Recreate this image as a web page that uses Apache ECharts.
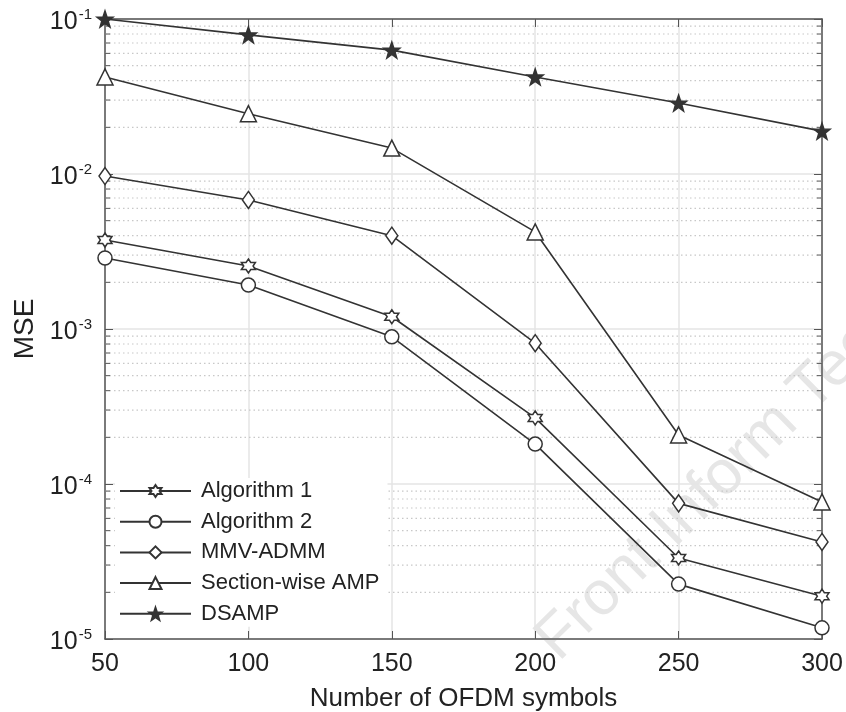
<!DOCTYPE html>
<html>
<head>
<meta charset="utf-8">
<script src="https://cdn.jsdelivr.net/npm/echarts@6/dist/echarts.min.js"></script>
<style>
  html, body { margin: 0; padding: 0; background: #fff; }
  #chart { width: 846px; height: 712px; }
</style>
</head>
<body>
<div id="chart"></div>
<script>
"use strict";
// data
var symbolsCount = [50, 100, 150, 200, 250, 300];
var alg1 = [3.75e-3, 2.55e-3, 1.2e-3, 2.67e-4, 3.33e-5, 1.89e-5];
var alg2 = [2.87e-3, 1.92e-3, 8.9e-4, 1.81e-4, 2.26e-5, 1.18e-5];
var mmvAdmm = [9.7e-3, 6.8e-3, 4.0e-3, 8.1e-4, 7.5e-5, 4.23e-5];
var sectionAmp = [4.23e-2, 2.45e-2, 1.47e-2, 4.23e-3, 2.07e-4, 7.66e-5];
var dsamp = [0.1, 7.9e-2, 6.3e-2, 4.23e-2, 2.87e-2, 1.89e-2];
var seriesNames = ['Algorithm 1', 'Algorithm 2', 'MMV-ADMM', 'Section-wise AMP', 'DSAMP'];

// minor grid lines of the log axis (2..9 in each decade)
var minorFactors = [2, 3, 4, 5, 6, 7, 8, 9];
var decades = [1e-5, 1e-4, 1e-3, 1e-2];
var minorTicks = [];
decades.forEach(function(d) {
	minorFactors.forEach(function(f) { minorTicks.push(f * d); });
});

var ink = '#333333';
var font = 'Liberation Sans, Arial, sans-serif';
var hexagram = 'path://M0,-10L2.89,-5L8.66,-5L5.77,0L8.66,5L2.89,5L0,10L-2.89,5L-8.66,5L-5.77,0L-8.66,-5L-2.89,-5Z';
var star5 = 'path://M0,-10L2.35,-3.24L9.51,-3.09L3.8,1.24L5.88,8.09L0,4L-5.88,8.09L-3.8,1.24L-9.51,-3.09L-2.35,-3.24Z';

function lineSeries(name, data, symbol, size, filled) {
	return {
		name: name,
		type: 'line',
		data: symbolsCount.map(function(x, i) { return [x, data[i]]; }),
		symbol: symbol,
		symbolSize: size,
		showAllSymbol: true,
		lineStyle: { color: ink, width: 1.6 },
		itemStyle: { color: filled ? ink : '#fff', borderColor: ink, borderWidth: 1.5 },
		emphasis: { disabled: true },
		z: 5
	};
}

var chart = echarts.init(document.getElementById('chart'));
var option = {
	animation: false,
	backgroundColor: '#fff',
	textStyle: { fontFamily: font },
	grid: { left: 105, right: 24, top: 19, bottom: 73, outerBoundsMode: 'none', containLabel: false },
	graphic: [{
		type: 'text',
		x: 525,
		y: 628,
		rotation: 44.5 * Math.PI / 180,
		z: 0,
		style: {
			text: 'Front Inform Tech',
			fontSize: 62,
			fontFamily: font,
			fill: '#e6e6e6'
		}
	}],
	legend: {
		left: 115,
		top: 478,
		orient: 'vertical',
		itemWidth: 71,
		itemHeight: 15,
		itemGap: 8.7,
		backgroundColor: '#fff',
		padding: [2, 8, 2, 4],
		data: seriesNames,
		textStyle: { fontSize: 22, color: '#222', padding: [0, 0, 0, 5] }
	},
	xAxis: [{
		type: 'value',
		min: 50,
		max: 300,
		interval: 50,
		name: 'Number of OFDM symbols',
		nameLocation: 'middle',
		nameGap: 47,
		nameTextStyle: { fontSize: 26, color: '#222' },
		axisLine: { lineStyle: { color: '#555', width: 1.5 } },
		axisTick: { inside: true, length: 8, lineStyle: { color: '#555' } },
		axisLabel: { fontSize: 25, color: '#222', margin: 13 },
		splitLine: { show: true, lineStyle: { color: '#e4e4e4', width: 1.5 } }
	}, {
		type: 'value',
		position: 'top',
		min: 50,
		max: 300,
		interval: 50,
		axisLine: { lineStyle: { color: '#555', width: 1.5 } },
		axisTick: { inside: true, length: 8, lineStyle: { color: '#555' } },
		axisLabel: { show: false },
		splitLine: { show: false }
	}],
	yAxis: [{
		type: 'log',
		logBase: 10,
		min: 1e-5,
		max: 1e-1,
		name: 'MSE',
		nameLocation: 'middle',
		nameGap: 65,
		nameTextStyle: { fontSize: 28, color: '#222' },
		axisLine: { show: true, lineStyle: { color: '#555', width: 1.5 } },
		axisTick: { inside: true, length: 8, lineStyle: { color: '#555' } },
		axisLabel: {
			margin: 13,
			formatter: function(v) {
				var e = Math.round(Math.log10(v));
				return '{b|10}{s|' + e + '}';
			},
			rich: {
				b: { fontSize: 25, color: '#222', padding: [6, 0, 0, 0] },
				s: { fontSize: 15, color: '#222', padding: [0, 0, 8, 1] }
			}
		},
		splitLine: { show: true, lineStyle: { color: '#e4e4e4', width: 1.5 } }
	}, {
		type: 'log',
		logBase: 10,
		min: 1e-5,
		max: 1e-1,
		position: 'right',
		axisLine: { show: true, lineStyle: { color: '#555', width: 1.5 } },
		axisTick: { inside: true, length: 8, lineStyle: { color: '#555' } },
		axisLabel: { show: false },
		splitLine: { show: false }
	}],
	series: [{
		type: 'custom',
		silent: true,
		z: 1,
		data: minorTicks.map(function(v) { return [50, v]; }),
		encode: { x: 0, y: 1 },
		renderItem: function(params, api) {
			var v = api.value(1);
			var a = api.coord([50, v]);
			var b = api.coord([300, v]);
			return {
				type: 'group',
				children: [{
					type: 'line',
					shape: { x1: a[0], y1: a[1], x2: b[0], y2: b[1] },
					style: { stroke: '#c8c8c8', lineWidth: 1.2, lineDash: [1.5, 3] }
				}, {
					type: 'line',
					shape: { x1: a[0], y1: a[1], x2: a[0] + 5, y2: a[1] },
					style: { stroke: '#555', lineWidth: 1 }
				}, {
					type: 'line',
					shape: { x1: b[0] - 5, y1: b[1], x2: b[0], y2: b[1] },
					style: { stroke: '#555', lineWidth: 1 }
				}]
			};
		}
	},
		lineSeries(seriesNames[0], alg1, hexagram, 14, false),
		lineSeries(seriesNames[1], alg2, 'circle', 14, false),
		lineSeries(seriesNames[2], mmvAdmm, 'diamond', [12, 17], false),
		lineSeries(seriesNames[3], sectionAmp, 'triangle', 16, false),
		lineSeries(seriesNames[4], dsamp, star5, 16, true)
	]
};
chart.setOption(option);
</script>
</body>
</html>
